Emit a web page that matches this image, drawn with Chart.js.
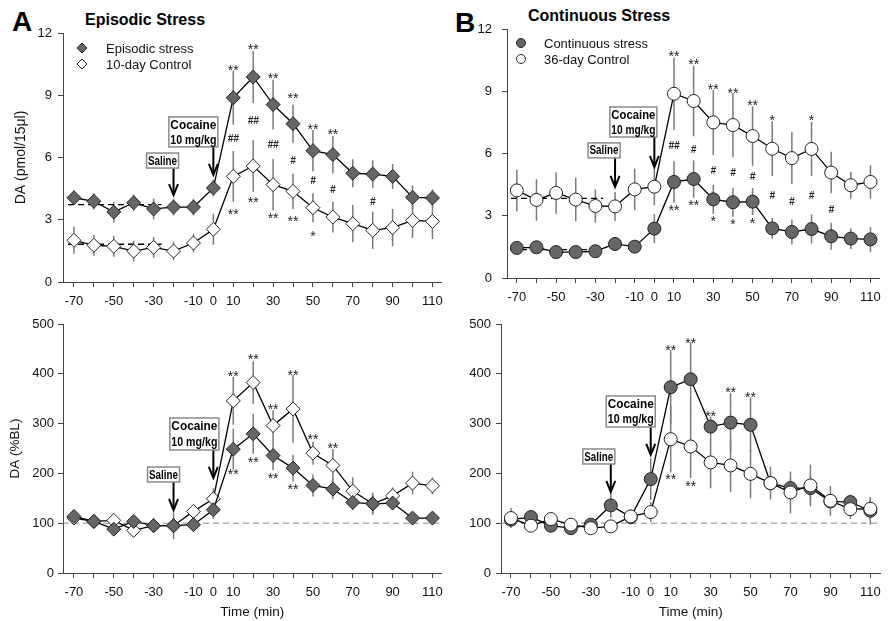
<!DOCTYPE html>
<html>
<head>
<meta charset="utf-8">
<script src="https://cdn.jsdelivr.net/npm/chart.js@4.4.1/dist/chart.umd.min.js"></script>
<style>
  body { margin: 0; background: #fff; width: 888px; height: 621px; position: relative; overflow: hidden; font-family: "Liberation Sans", Arial, sans-serif; }
  canvas { position: absolute; }
  .lab { position: absolute; font-weight: bold; color: #000; white-space: nowrap; line-height: 1; }
</style>
</head>
<body>
<div class="lab" style="left:12px;top:8px;font-size:28px">A</div>
<div class="lab" style="left:85px;top:12px;font-size:16px">Episodic Stress</div>
<div class="lab" style="left:455px;top:9px;font-size:28px">B</div>
<div class="lab" style="left:528px;top:8px;font-size:16px">Continuous Stress</div>

<canvas id="aTop" width="450" height="310" style="left:0;top:0"></canvas>
<canvas id="bTop" width="438" height="310" style="left:450px;top:0"></canvas>
<canvas id="aBot" width="450" height="311" style="left:0;top:310px"></canvas>
<canvas id="bBot" width="438" height="311" style="left:450px;top:310px"></canvas>

<script>
// sampling times (min) and which ones get a label
const timePoints = [-70, -60, -50, -40, -30, -20, -10, 0, 10, 20, 30, 40, 50, 60, 70, 80, 90, 100, 110];
const xTickLabels = [-70, -50, -30, -10, 0, 10, 30, 50, 70, 90, 110];

// A, top: DA (pmol/15ul)
const episodicStress    = [4.06, 3.89, 3.37, 3.82, 3.52, 3.61, 3.61, 4.53, 8.88, 9.88, 8.55, 7.63, 6.33, 6.14, 5.24, 5.20, 5.09, 4.08, 4.05];
const episodicStressErr = [0.35, 0.4, 0.5, 0.4, 0.5, 0.4, 0.4, 0.4, 1.3, 1.25, 1.2, 0.92, 1.0, 0.9, 0.67, 0.66, 0.6, 0.58, 0.42];
const control10         = [2.01, 1.77, 1.72, 1.49, 1.67, 1.49, 1.88, 2.54, 5.09, 5.59, 4.69, 4.37, 3.58, 3.13, 2.81, 2.49, 2.62, 2.97, 2.92];
const control10Err      = [0.65, 0.5, 0.5, 0.5, 0.5, 0.45, 0.45, 0.75, 1.22, 1.24, 1.25, 0.85, 0.7, 0.75, 0.9, 0.9, 0.9, 0.85, 0.85];
const episodicBaseline  = 3.73;
const control10Baseline = 1.82;

// B, top: DA (pmol/15ul)
const continuousStress    = [1.45, 1.48, 1.25, 1.25, 1.29, 1.64, 1.51, 2.38, 4.63, 4.77, 3.79, 3.65, 3.68, 2.39, 2.22, 2.36, 2.01, 1.90, 1.86];
const continuousStressErr = [0.25, 0.25, 0.25, 0.25, 0.25, 0.25, 0.25, 0.7, 1.0, 0.9, 0.7, 0.7, 0.65, 0.5, 0.6, 0.7, 0.65, 0.5, 0.6];
const control36           = [4.22, 3.76, 4.10, 3.78, 3.47, 3.45, 4.27, 4.40, 8.88, 8.53, 7.50, 7.37, 6.84, 6.23, 5.78, 6.22, 5.08, 4.47, 4.63];
const control36Err        = [1.0, 1.0, 1.0, 1.05, 0.8, 0.7, 1.0, 0.9, 1.75, 1.7, 1.57, 1.55, 1.43, 1.32, 1.25, 1.3, 1.0, 0.65, 0.8];
const continuousBaseline  = 1.37;
const control36Baseline   = 3.84;
const baselineSpan = [-73, -26];

// A, bottom: DA (%BL)
const episodicPct     = [113.6, 103.6, 88, 103.6, 95, 95, 97, 127, 248.7, 279.4, 236, 210.6, 175.8, 168.4, 141.7, 139, 140.4, 110.3, 110.3];
const episodicPctErr  = [8, 5, 6, 6, 6, 27, 6, 18, 41, 40, 29, 27, 22, 20, 15, 22, 12, 6, 5];
const control10Pct    = [110.3, 103.6, 105.6, 85.6, 95, 95, 123.7, 149, 345.6, 382.4, 296, 329.5, 240.6, 216, 164.4, 139, 155, 180.5, 175];
const control10PctErr = [6, 5, 6, 8, 6, 8, 8, 21, 48, 43, 31, 68, 23, 33, 28, 20, 17, 23, 17];

// B, bottom: DA (%BL)
const continuousPct    = [107, 112.3, 95, 90, 97, 135.7, 112.3, 188.5, 373, 389, 294, 302, 297.5, 180.5, 170.5, 170.5, 143.7, 142.4, 125];
const continuousPctErr = [12, 8, 6, 6, 8, 25, 15, 42, 74, 74, 20, 59, 55, 15, 20, 25, 15, 15, 28];
const control36Pct     = [110.3, 95, 108.3, 97, 90, 93.6, 113.6, 122.3, 268.7, 254, 222, 216, 199, 180.5, 161.8, 175.8, 145, 128.3, 129];
const control36PctErr  = [20, 8, 8, 6, 6, 6, 10, 20, 67, 63, 52, 53, 49, 33, 42, 42, 30, 20, 21];
const pctBaseline = 100;

// significance marks: [time, value, text]
const marksATop = [
  [10, 10.36, '**'], [20, 11.36, '**'], [30, 9.96, '**'], [40, 9.0, '**'], [50, 7.5, '**'], [60, 7.26, '**'],
  [10, 6.96, '##'], [20, 7.82, '##'], [30, 6.63, '##'], [40, 5.9, '#'], [50, 4.93, '#'], [60, 4.48, '#'], [80, 3.9, '#'],
  [10, 3.42, '**'], [20, 3.98, '**'], [30, 3.21, '**'], [40, 3.1, '**'], [50, 2.38, '*']
];
const marksBTop = [
  [10, 10.84, '**'], [20, 10.47, '**'], [30, 9.27, '**'], [40, 9.08, '**'], [50, 8.47, '**'], [60, 7.76, '*'], [80, 7.76, '*'],
  [10, 6.39, '##'], [20, 6.22, '#'], [30, 5.22, '#'], [40, 5.09, '#'], [50, 4.9, '#'], [60, 3.98, '#'], [70, 3.69, '#'], [80, 4.02, '#'], [90, 3.34, '#'],
  [10, 3.42, '**'], [20, 3.65, '**'], [30, 2.89, '*'], [40, 2.73, '*'], [50, 2.78, '*']
];
const marksABot = [
  [10, 402, '**'], [20, 436, '**'], [30, 335.6, '**'], [40, 404, '**'], [50, 275, '**'], [60, 257, '**'],
  [10, 204, '**'], [20, 228.6, '**'], [30, 196, '**'], [40, 175, '**']
];
const marksBBot = [
  [10, 454.5, '**'], [20, 468, '**'], [30, 322, '**'], [40, 369, '**'], [50, 359, '**'],
  [10, 194, '**'], [20, 180.5, '**']
];

const FONT = '"Liberation Sans", Arial, sans-serif';
const axisColor = '#444';
const stressFill = '#666';

function pts(vals) {
  return timePoints.map((t, i) => ({ x: t, y: vals[i] }));
}

function series(label, vals, err, shape, fill) {
  return {
    label: label, data: pts(vals), err: err, legendShape: shape,
    borderColor: '#000', borderWidth: 1.3, tension: 0,
    pointStyle: shape, pointRadius: shape === 'rectRot' ? 7 : 6.5,
    pointBackgroundColor: fill, pointBorderColor: '#222', pointBorderWidth: 1
  };
}

function dashed(y, x0, x1, color, width) {
  return {
    data: [{ x: x0, y: y }, { x: x1, y: y }], borderColor: color, borderWidth: width,
    borderDash: [6, 4], pointRadius: 0
  };
}

function marker(ctx, shape, x, y, r, fill) {
  ctx.beginPath();
  if (shape === 'rectRot') {
    ctx.moveTo(x, y - r); ctx.lineTo(x + r, y); ctx.lineTo(x, y + r); ctx.lineTo(x - r, y); ctx.closePath();
  } else {
    ctx.arc(x, y, r, 0, Math.PI * 2);
  }
  ctx.fillStyle = fill; ctx.fill();
  ctx.strokeStyle = '#222'; ctx.lineWidth = 1; ctx.stroke();
}

// error bars, significance marks, injection arrows and legend
function extras(marks, arrows, legend) {
  return {
    id: 'extras',
    beforeDatasetsDraw(chart) {
      const { ctx, scales: { x, y } } = chart;
      ctx.save();
      ctx.strokeStyle = '#7a7a7a';
      ctx.lineWidth = 1.5;
      chart.data.datasets.forEach(ds => {
        if (!ds.err) return;
        ds.data.forEach((p, i) => {
          const px = x.getPixelForValue(p.x);
          ctx.beginPath();
          ctx.moveTo(px, y.getPixelForValue(p.y - ds.err[i]));
          ctx.lineTo(px, y.getPixelForValue(p.y + ds.err[i]));
          ctx.stroke();
        });
      });
      ctx.restore();
    },
    afterDatasetsDraw(chart) {
      const { ctx, scales: { x, y } } = chart;
      ctx.save();
      ctx.textAlign = 'center';
      ctx.textBaseline = 'alphabetic';
      ctx.fillStyle = '#222';
      marks.forEach(([t, v, s]) => {
        const px = x.getPixelForValue(t), py = y.getPixelForValue(v);
        if (s.includes('*')) {
          ctx.font = '14px ' + FONT;
          ctx.fillText(s, px, py + 8);
        } else {
          ctx.font = 'italic bold 10px ' + FONT;
          ctx.fillText(s, px, py + 4);
        }
      });

      // arrows with labelled boxes
      arrows.forEach(a => {
        const px = x.getPixelForValue(a.x), tip = y.getPixelForValue(a.tip);
        const top = tip - a.len;
        ctx.strokeStyle = '#000';
        ctx.lineWidth = 2;
        ctx.beginPath(); ctx.moveTo(px, top); ctx.lineTo(px, tip - 1); ctx.stroke();
        ctx.beginPath(); ctx.moveTo(px - 4.5, tip - 11); ctx.lineTo(px, tip); ctx.lineTo(px + 4.5, tip - 11); ctx.stroke();
        const bx = px + a.dx - a.w / 2, by = top - a.h;
        ctx.fillStyle = '#fff';
        ctx.fillRect(bx, by, a.w, a.h);
        ctx.strokeStyle = '#8a8a8a';
        ctx.lineWidth = 1.5;
        ctx.strokeRect(bx, by, a.w, a.h);
        ctx.fillStyle = '#000';
        ctx.font = 'bold 13px "Liberation Sans Narrow", ' + FONT;
        ctx.textBaseline = 'middle';
        const lh = a.h / a.text.length;
        a.text.forEach((s, i) => ctx.fillText(s, px + a.dx, by + lh * (i + 0.5) + 0.5, a.w - 3));
      });

      // legend
      if (legend) {
        const { left, top } = chart.chartArea;
        ctx.font = '13px ' + FONT;
        ctx.textAlign = 'left';
        ctx.textBaseline = 'middle';
        chart.data.datasets.filter(d => d.label).forEach((ds, i) => {
          const yy = top + legend.y + i * 16;
          marker(ctx, ds.legendShape, left + legend.mx, yy, ds.legendShape === 'rectRot' ? 5 : 4.5, ds.pointBackgroundColor);
          ctx.fillStyle = '#111';
          ctx.fillText(ds.label, left + legend.tx, yy + 1);
        });
      }
      ctx.restore();
    }
  };
}

function makePanel(id, c) {
  new Chart(document.getElementById(id), {
    type: 'line',
    data: { datasets: c.datasets },
    options: {
      responsive: false,
      animation: false,
      layout: { padding: c.padding },
      plugins: { legend: { display: false }, tooltip: { enabled: false } },
      scales: {
        x: {
          type: 'linear', min: c.xMin, max: c.xMax,
          afterBuildTicks: s => { s.ticks = timePoints.map(v => ({ value: v })); },
          afterFit: s => { s.height = c.xHeight; },
          ticks: {
            autoSkip: false, maxRotation: 0, padding: 7, color: '#111',
            font: { family: FONT, size: 13 },
            callback: v => xTickLabels.includes(v) ? String(v) : ''
          },
          grid: { drawOnChartArea: false, tickLength: 5, color: axisColor },
          border: { color: axisColor, width: 1 },
          title: {
            display: !!c.xTitle, text: c.xTitle, color: '#111',
            font: { family: FONT, size: 13.5 }, padding: { top: 0, bottom: 1 }
          }
        },
        y: {
          min: c.yMin, max: c.yMax,
          afterFit: s => { s.width = c.yWidth; },
          ticks: { stepSize: c.yStep, padding: c.yPad, color: '#111', font: { family: FONT, size: 13 } },
          grid: { drawOnChartArea: false, tickLength: 5, color: axisColor },
          border: { color: axisColor, width: 1 },
          title: {
            display: !!c.yTitle, text: c.yTitle, color: '#111',
            font: { family: FONT, size: c.yTitleSize || 13 }, padding: { top: c.yTitlePad || 0, bottom: 0 }
          }
        }
      }
    },
    plugins: [extras(c.marks, c.arrows, c.legend)]
  });
}

makePanel('aTop', {
  datasets: [
    series('Episodic stress', episodicStress, episodicStressErr, 'rectRot', stressFill),
    series('10-day Control', control10, control10Err, 'rectRot', '#fff'),
    dashed(episodicBaseline, baselineSpan[0], baselineSpan[1], '#000', 1.3),
    dashed(control10Baseline, baselineSpan[0], baselineSpan[1], '#000', 1.3)
  ],
  padding: { top: 33, right: 5, left: 0, bottom: 0 },
  xMin: -75.5, xMax: 114.5, xHeight: 28,
  yMin: 0, yMax: 12, yStep: 3, yWidth: 63, yPad: 6,
  yTitle: 'DA (pmol/15\u03bcl)', yTitleSize: 14, yTitlePad: 12.5,
  marks: marksATop,
  arrows: [
    { x: -20, tip: 4.19, len: 27, dx: -11, w: 32, h: 15, text: ['Saline'] },
    { x: 0, tip: 5.16, len: 28, dx: -20, w: 49, h: 30, text: ['Cocaine', '10 mg/kg'] }
  ],
  legend: { mx: 19, tx: 43, y: 15 }
});

makePanel('bTop', {
  datasets: [
    series('Continuous stress', continuousStress, continuousStressErr, 'circle', stressFill),
    series('36-day Control', control36, control36Err, 'circle', '#fff'),
    dashed(continuousBaseline, baselineSpan[0], baselineSpan[1] - 2, '#000', 1.3),
    dashed(control36Baseline, baselineSpan[0], baselineSpan[1], '#000', 1.3)
  ],
  padding: { top: 29, right: 0, left: 0, bottom: 0 },
  xMin: -75, xMax: 114.5, xHeight: 32,
  yMin: 0, yMax: 12, yStep: 3, yWidth: 57, yPad: 10,
  marks: marksBTop,
  arrows: [
    { x: -20, tip: 4.39, len: 29, dx: -11, w: 32, h: 15, text: ['Saline'] },
    { x: 0, tip: 5.35, len: 30, dx: -21, w: 47, h: 30, text: ['Cocaine', '10 mg/kg'] }
  ],
  legend: { mx: 14, tx: 37, y: 14 }
});

makePanel('aBot', {
  datasets: [
    series('', episodicPct, episodicPctErr, 'rectRot', stressFill),
    series('', control10Pct, control10PctErr, 'rectRot', '#fff'),
    dashed(pctBaseline, -75.5, 114.5, '#8a8a8a', 1)
  ],
  padding: { top: 14, right: 5, left: 0, bottom: 0 },
  xMin: -75.5, xMax: 114.5, xHeight: 48, xTitle: 'Time (min)',
  yMin: 0, yMax: 500, yStep: 100, yWidth: 63, yPad: 4,
  yTitle: 'DA (%BL)', yTitleSize: 13.5, yTitlePad: 7,
  marks: marksABot,
  arrows: [
    { x: -20, tip: 126.5, len: 28, dx: -10, w: 32, h: 15, text: ['Saline'] },
    { x: 0, tip: 190.8, len: 28, dx: -19, w: 49, h: 32, text: ['Cocaine', '10 mg/kg'] }
  ]
});

makePanel('bBot', {
  datasets: [
    series('', control36Pct, control36PctErr, 'circle', '#fff'),
    series('', continuousPct, continuousPctErr, 'circle', stressFill),
    dashed(pctBaseline, -75, 115.1, '#8a8a8a', 1)
  ],
  padding: { top: 14, right: 6, left: 0, bottom: 0 },
  xMin: -75, xMax: 115.1, xHeight: 48, xTitle: 'Time (min)',
  yMin: 0, yMax: 500, yStep: 100, yWidth: 51, yPad: 5,
  marks: marksBBot,
  arrows: [
    { x: -20, tip: 162.7, len: 28, dx: -12, w: 32, h: 15, text: ['Saline'] },
    { x: 0, tip: 237, len: 28, dx: -20, w: 49, h: 31, text: ['Cocaine', '10 mg/kg'] }
  ]
});
</script>
</body>
</html>
